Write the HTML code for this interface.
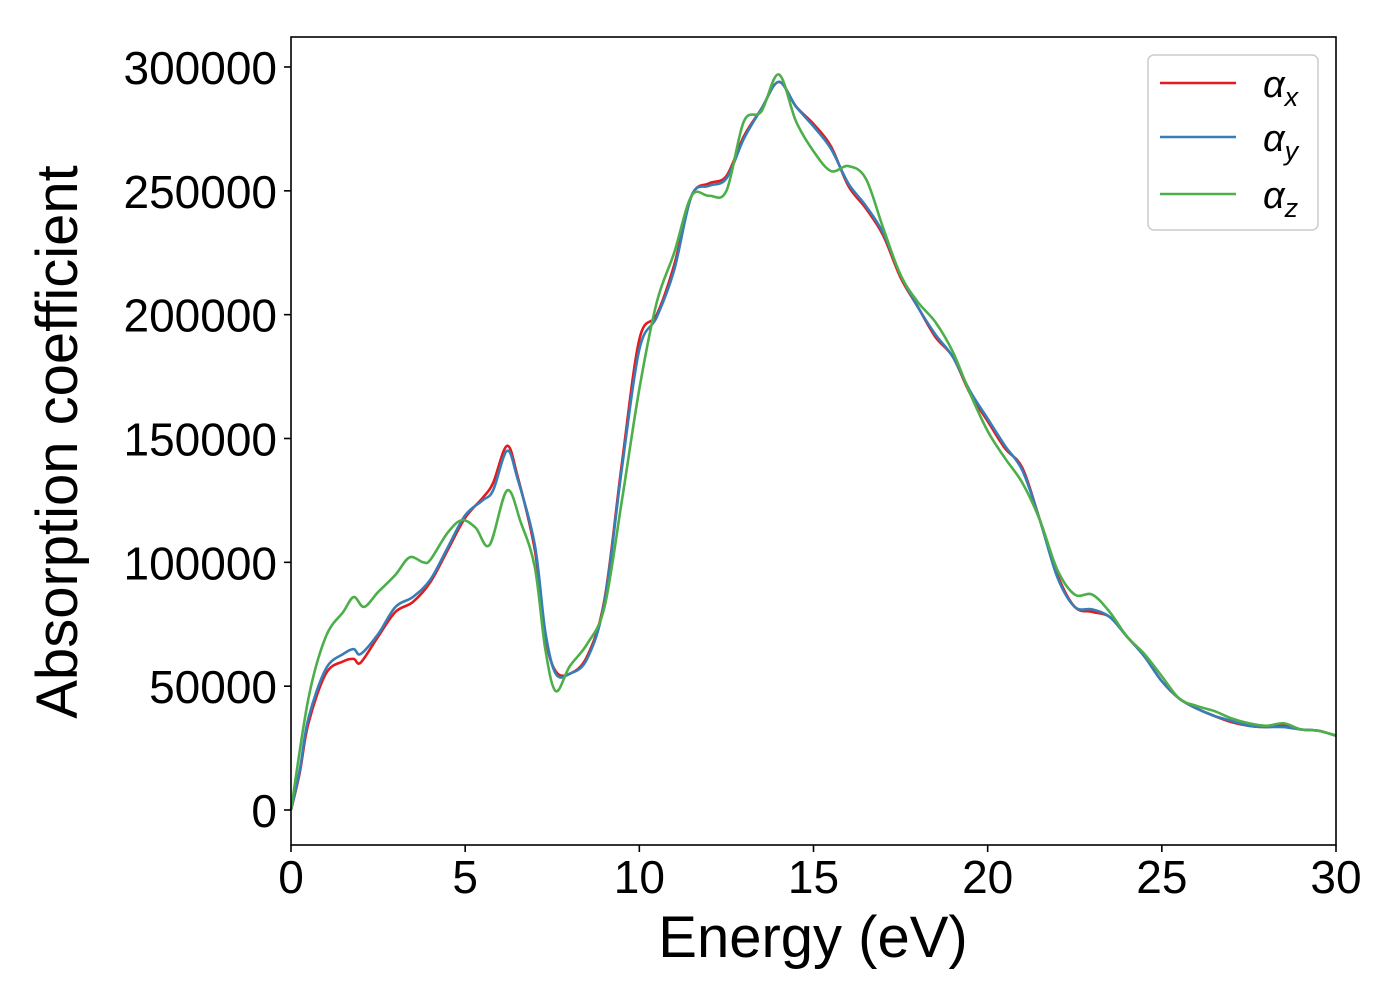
<!DOCTYPE html>
<html><head><meta charset="utf-8"><style>
html,body{margin:0;padding:0;background:#fff;}
svg{display:block;font-family:"Liberation Sans","DejaVu Sans",sans-serif;}
</style></head><body>
<svg id="chart" width="1400" height="1000" viewBox="0 0 1400 1000">
<g id="grid"></g>
<g id="series"></g>
<rect x="291" y="37" width="1045" height="808" fill="none" stroke="#000" stroke-width="1.6"/>
<g id="ticks"></g>
<text x="813" y="957" font-size="58" text-anchor="middle">Energy (eV)</text>
<text transform="translate(77,442) rotate(-90)" font-size="58" text-anchor="middle">Absorption coefficient</text>
<g>
<rect x="1148" y="55" width="170" height="175" rx="6" fill="#fff" stroke="#ccc" stroke-width="1.5"/>
<g><line x1="1160" y1="83" x2="1236" y2="83" stroke="#e41a1c" stroke-width="2.5"/><text x="1263" y="97" font-size="38" font-style="italic">α<tspan font-size="27" dy="9">x</tspan></text></g>
<g><line x1="1160" y1="137" x2="1236" y2="137" stroke="#377eb8" stroke-width="2.5"/><text x="1263" y="151" font-size="38" font-style="italic">α<tspan font-size="27" dy="9">y</tspan></text></g>
<g><line x1="1160" y1="194" x2="1236" y2="194" stroke="#4daf4a" stroke-width="2.5"/><text x="1263" y="208" font-size="38" font-style="italic">α<tspan font-size="27" dy="9">z</tspan></text></g>
</g>
</svg>
<script>
const energyX=[0,0.25,0.5,1,1.5,1.8,2,2.5,3,3.5,4,4.5,5,5.5,5.8,6.2,6.5,7,7.3,7.6,8,8.5,9,9.5,10,10.5,11,11.5,12,12.5,13,13.5,14,14.5,15,15.5,16,16.5,17,17.5,18,18.5,19,19.5,20,20.5,21,21.5,22,22.5,23,23.5,24,24.5,25,25.5,26,26.5,27,27.5,28,28.5,29,29.5,30];
const alphaX=[0,15000,35000,55000,60000,61000,59500,70000,80000,84000,92000,105000,118000,126000,132000,147000,135000,105000,70000,56000,55000,62000,85000,140000,190000,200000,220000,248000,253000,256000,272000,283000,294000,284000,277000,268000,252000,243000,232000,215000,203000,191000,183000,168000,157000,146000,138000,117000,95000,82000,80000,78000,70000,62000,52000,45000,41000,38000,35500,34000,33500,34000,32500,32000,30000];
const alphaY=[0,16000,37000,57000,63000,65000,63000,71000,82000,86000,93000,106000,119000,125000,129000,145000,134000,107000,72000,55000,55000,61000,84000,138000,186000,199000,218000,248000,252000,255000,271000,283000,294000,284000,276000,267000,253000,244000,233000,216000,203000,192000,183000,169000,158000,147000,137000,117000,94000,82000,81000,78000,70000,62000,52000,45000,41000,38000,36000,34000,33500,33500,32500,32000,30000];
const energyZ=[0,0.5,1,1.5,1.8,2.1,2.5,3,3.4,3.8,4,4.5,4.9,5.3,5.7,6.2,6.6,7,7.3,7.6,8,8.5,9,9.5,10,10.5,11,11.5,12,12.5,13,13.5,14,14.5,15,15.5,16,16.5,17,17.5,18,18.5,19,19.5,20,20.5,21,21.5,22,22.5,23,23.5,24,24.5,25,25.5,26,26.5,27,27.5,28,28.5,29,29.5,30];
const alphaZ=[0,45000,70000,80000,86000,82000,88000,95000,102000,100000,101000,112000,117000,114000,107000,129000,116000,98000,65000,48000,58000,67000,82000,125000,170000,205000,225000,248000,248000,250000,278000,282000,297000,278000,266000,258000,260000,255000,235000,216000,205000,197000,185000,168000,153000,142000,132000,117000,97000,87000,87000,80000,70000,63000,54000,45000,42000,40000,37000,35000,34000,35000,32500,32000,30000];
const xTicks=[0,5,10,15,20,25,30];
const yTicks=[0,50000,100000,150000,200000,250000,300000];

const NS="http://www.w3.org/2000/svg";
const sx=v=>291+v*(1045/30);
const sy=v=>810-v*(743/300000);
function mk(t,a){const e=document.createElementNS(NS,t);for(const k in a)e.setAttribute(k,a[k]);return e;}
const tk=document.getElementById('ticks');
xTicks.forEach(t=>{
  const l=mk('line',{x1:sx(t),x2:sx(t),y1:845,y2:852,stroke:'#000','stroke-width':1.6});
  
  
  tk.appendChild(l);
  const s=mk('text',{x:sx(t),y:893,'font-size':46,'text-anchor':'middle'});
  
  
  s.textContent=t;tk.appendChild(s);
});
yTicks.forEach(t=>{
  const l=mk('line',{x1:284,x2:291,y1:sy(t),y2:sy(t),stroke:'#000','stroke-width':1.6});
  
  
  tk.appendChild(l);
  const s=mk('text',{x:277,y:sy(t)+17,'font-size':46,'text-anchor':'end'});
  
  
  s.textContent=t;tk.appendChild(s);
});
function pathFor(xs,ys){
  const p=xs.map((x,i)=>[sx(x),sy(ys[i])]);
  let d='M'+p[0][0]+','+p[0][1];
  for(let i=0;i<p.length-1;i++){
    const p0=p[Math.max(0,i-1)],p1=p[i],p2=p[i+1],p3=p[Math.min(p.length-1,i+2)];
    const c1=[p1[0]+(p2[0]-p0[0])/6,p1[1]+(p2[1]-p0[1])/6];
    const c2=[p2[0]-(p3[0]-p1[0])/6,p2[1]-(p3[1]-p1[1])/6];
    d+=' C'+c1+' '+c2+' '+p2;
  }
  return d;
}
const sg=document.getElementById('series');
[[energyX,alphaX,'#e41a1c','series-alpha-x'],[energyX,alphaY,'#377eb8','series-alpha-y'],[energyZ,alphaZ,'#4daf4a','series-alpha-z']].forEach(s=>{
  const p=mk('path',{d:pathFor(s[0],s[1]),fill:'none',stroke:s[2],'stroke-width':2.6,'stroke-linejoin':'round'});
  
  
  sg.appendChild(p);
});
</script>
</body></html>
